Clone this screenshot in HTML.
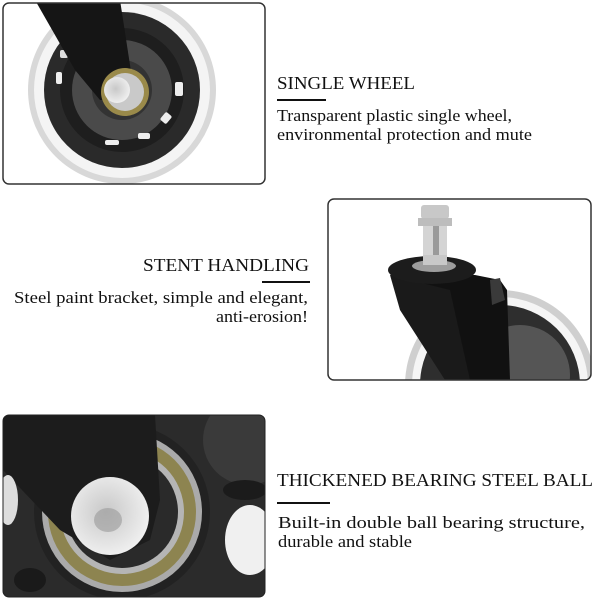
<!DOCTYPE html>
<html><head><meta charset="utf-8"><style>
html,body{margin:0;padding:0;background:#fff;width:600px;height:600px;overflow:hidden}
svg{display:block}
text{font-family:"Liberation Serif",serif;fill:#111}
</style></head><body>
<svg width="600" height="600" viewBox="0 0 600 600" xmlns="http://www.w3.org/2000/svg">
<defs>
<clipPath id="c1"><rect x="3" y="3" width="262" height="181" rx="6"/></clipPath>
<clipPath id="c2"><rect x="328" y="199" width="263" height="181" rx="6"/></clipPath>
<clipPath id="c3"><rect x="3" y="415" width="262" height="182" rx="6"/></clipPath>
<radialGradient id="hub" cx="0.45" cy="0.45" r="0.6"><stop offset="0" stop-color="#c8c8c8"/><stop offset="1" stop-color="#f2f2f2"/></radialGradient>
</defs>
<!-- Panel 1 -->
<g clip-path="url(#c1)">
<rect x="3" y="3" width="262" height="181" fill="#fff"/>
<circle cx="122" cy="90" r="94" fill="#d8d8d8"/>
<circle cx="122" cy="90" r="88" fill="#f4f4f4"/>
<circle cx="122" cy="90" r="78" fill="#2a2a2a"/>
<circle cx="122" cy="90" r="62" fill="#1e1e1e"/>
<circle cx="122" cy="90" r="50" fill="#4a4a4a"/>
<circle cx="122" cy="90" r="30" fill="#333"/>
<rect x="175" y="82" width="8" height="14" fill="#eee" rx="2"/>
<rect x="162" y="113" width="8" height="10" fill="#eee" rx="2" transform="rotate(40 166 118)"/>
<rect x="138" y="133" width="12" height="6" fill="#eee" rx="2"/>
<rect x="105" y="140" width="14" height="5" fill="#eee" rx="2"/>
<rect x="56" y="72" width="6" height="12" fill="#eee" rx="2"/>
<rect x="60" y="50" width="8" height="8" fill="#ddd" rx="2"/>
<polygon points="35,0 120,0 132,78 130,100 100,100 75,70" fill="#151515"/>
<circle cx="125" cy="92" r="24" fill="#9a8a4a"/>
<circle cx="125" cy="92" r="19" fill="#c9c9c9"/>
<circle cx="117" cy="90" r="13" fill="url(#hub)"/>
</g>
<rect x="3" y="3" width="262" height="181" rx="6" fill="none" stroke="#333" stroke-width="1.5"/>
<text x="277" y="89" font-size="18" textLength="138" lengthAdjust="spacingAndGlyphs">SINGLE WHEEL</text>
<rect x="277" y="99" width="49" height="2" fill="#111"/>
<text x="277" y="121" font-size="17" textLength="235" lengthAdjust="spacingAndGlyphs">Transparent plastic single wheel,</text>
<text x="277" y="140" font-size="17" textLength="255" lengthAdjust="spacingAndGlyphs">environmental protection and mute</text>

<!-- Panel 2 -->
<g clip-path="url(#c2)">
<rect x="328" y="199" width="263" height="181" fill="#fff"/>
<circle cx="500" cy="385" r="95" fill="#cfcfcf"/>
<circle cx="500" cy="385" r="88" fill="#f5f5f5"/>
<circle cx="500" cy="385" r="80" fill="#2e2e2e"/>
<circle cx="520" cy="375" r="50" fill="#555"/>
<rect x="421" y="205" width="28" height="14" rx="3" fill="#c8c8c8"/>
<rect x="418" y="218" width="34" height="8" fill="#bdbdbd"/>
<rect x="423" y="226" width="24" height="42" fill="#d4d4d4"/>
<rect x="433" y="226" width="6" height="42" fill="#9a9a9a"/>
<polygon points="390,275 475,275 500,280 507,290 510,380 455,380 445,300" fill="#111"/>
<polygon points="390,275 450,290 470,380 445,380 400,310" fill="#1a1a1a"/>
<polygon points="490,280 500,278 505,300 492,305" fill="#3a3a3a"/>
<ellipse cx="432" cy="270" rx="44" ry="14" fill="#1c1c1c"/>
<ellipse cx="434" cy="266" rx="22" ry="6" fill="#9d9d9d"/>
<rect x="423" y="255" width="24" height="10" fill="#c8c8c8"/>
</g>
<rect x="328" y="199" width="263" height="181" rx="6" fill="none" stroke="#333" stroke-width="1.5"/>
<text x="143" y="271" font-size="18" textLength="166" lengthAdjust="spacingAndGlyphs">STENT HANDLING</text>
<rect x="262" y="281" width="48" height="2" fill="#111"/>
<text x="14" y="303" font-size="17" textLength="294" lengthAdjust="spacingAndGlyphs">Steel paint bracket, simple and elegant,</text>
<text x="216" y="322" font-size="17" textLength="92" lengthAdjust="spacingAndGlyphs">anti-erosion!</text>

<!-- Panel 3 -->
<g clip-path="url(#c3)">
<rect x="3" y="415" width="262" height="182" fill="#2b2b2b"/>
<circle cx="248" cy="440" r="45" fill="#3a3a3a"/>
<ellipse cx="245" cy="490" rx="22" ry="10" fill="#1b1b1b"/>
<ellipse cx="250" cy="540" rx="25" ry="35" fill="#f0f0f0"/>
<circle cx="122" cy="512" r="88" fill="#222"/>
<circle cx="122" cy="512" r="80" fill="#aaa"/>
<circle cx="122" cy="512" r="74" fill="#8d8450"/>
<circle cx="122" cy="512" r="62" fill="#b5b5b5"/>
<circle cx="122" cy="512" r="56" fill="#2a2a2a"/>
<ellipse cx="30" cy="580" rx="16" ry="12" fill="#1a1a1a"/>
<polygon points="3,415 155,415 160,500 150,540 110,560 60,530 3,470" fill="#1c1c1c"/>
<circle cx="110" cy="516" r="39" fill="url(#hub)"/>
<ellipse cx="108" cy="520" rx="14" ry="12" fill="#9a9a9a" opacity="0.6"/>
<ellipse cx="8" cy="500" rx="10" ry="25" fill="#ddd"/>
</g>
<rect x="3" y="415" width="262" height="182" rx="6" fill="none" stroke="#222" stroke-width="1"/>
<text x="277" y="486" font-size="18" textLength="316" lengthAdjust="spacingAndGlyphs">THICKENED BEARING STEEL BALL</text>
<rect x="277" y="502" width="53" height="2" fill="#111"/>
<text x="278" y="528" font-size="17" textLength="307" lengthAdjust="spacingAndGlyphs">Built-in double ball bearing structure,</text>
<text x="278" y="547" font-size="17" textLength="134" lengthAdjust="spacingAndGlyphs">durable and stable</text>
</svg>
</body></html>
